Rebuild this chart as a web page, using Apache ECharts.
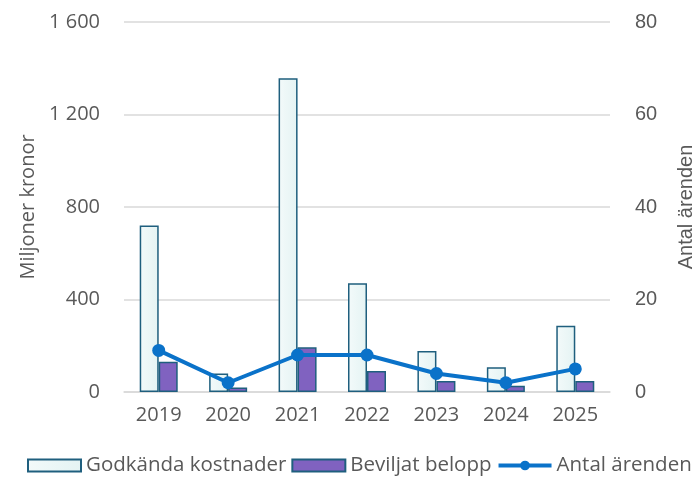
<!DOCTYPE html>
<html>
<head>
<meta charset="utf-8">
<script src="https://cdn.jsdelivr.net/npm/echarts@6/dist/echarts.min.js"></script>
<style>
  html, body { margin: 0; padding: 0; background: #fff; }
  #chart { width: 698px; height: 497px; }
</style>
</head>
<body>
<div id="chart"></div>
<script>
// years on the x axis
var years = ['2019', '2020', '2021', '2022', '2023', '2024', '2025']
// Miljoner kronor
var godkanda = [720, 80, 1357, 470, 177, 107, 287]
var beviljat = [131, 20, 193, 91, 48, 27, 48]
// Antal ärenden
var antal = [9, 2, 8, 8, 4, 2, 5]

var textColor = '#595959'
var gridColor = '#d9d9d9'
var edgeColor = '#1f5f7e'
var lineColor = '#0a72c9'

var chart = echarts.init(document.getElementById('chart'))

chart.setOption({
  animation: false,
  grid: {
    left: 124,
    right: 88,
    top: 22,
    bottom: 105,
    outerBoundsMode: 'none',
  },
  legend: {
    left: 22,
    top: 450,
    itemWidth: 53,
    itemHeight: 12,
    itemGap: 5,
    textStyle: {
      color: textColor,
      fontSize: 20.5,
      fontFamily: 'Open Sans',
    },
    data: [
      { name: 'Godkända kostnader', icon: 'rect' },
      { name: 'Beviljat belopp', icon: 'rect' },
      { name: 'Antal ärenden', lineStyle: { width: 4, color: lineColor } },
    ],
  },
  xAxis: {
    type: 'category',
    data: years,
    axisTick: { show: false },
    axisLine: { lineStyle: { color: gridColor, width: 1.5 } },
    axisLabel: {
      color: textColor,
      fontSize: 20,
      fontFamily: 'Open Sans',
      margin: 13,
    },
  },
  yAxis: [
    {
      type: 'value',
      min: 0,
      max: 1600,
      interval: 400,
      name: 'Miljoner kronor',
      nameLocation: 'middle',
      nameRotate: 90,
      nameGap: 86,
      nameTextStyle: { color: textColor, fontSize: 20, fontFamily: 'Open Sans' },
      axisLine: { show: false },
      axisTick: { show: false },
      splitLine: { lineStyle: { color: gridColor, width: 1.5 } },
      axisLabel: {
        color: textColor,
        fontSize: 20,
        fontFamily: 'Open Sans',
        margin: 24,
        formatter: function (v) {
          return String(v).replace(/\B(?=(\d{3})+(?!\d))/g, ' ')
        },
      },
    },
    {
      type: 'value',
      min: 0,
      max: 80,
      interval: 20,
      name: 'Antal ärenden',
      nameLocation: 'middle',
      nameRotate: 90,
      nameGap: 66,
      nameTextStyle: { color: textColor, fontSize: 20, fontFamily: 'Liberation Sans' },
      axisLine: { show: false },
      axisTick: { show: false },
      splitLine: { show: false },
      axisLabel: {
        color: textColor,
        fontSize: 20,
        fontFamily: 'Liberation Sans',
        margin: 25,
      },
    },
  ],
  series: [
    {
      name: 'Godkända kostnader',
      type: 'bar',
      barWidth: 19,
      barGap: '0%',
      itemStyle: {
        color: new echarts.graphic.LinearGradient(0, 0, 1, 0, [
          { offset: 0, color: '#f3fafa' },
          { offset: 1, color: '#e4f3f3' },
        ]),
        borderColor: edgeColor,
        borderWidth: 1.5,
      },
      data: godkanda,
    },
    {
      name: 'Beviljat belopp',
      type: 'bar',
      barWidth: 19,
      itemStyle: {
        color: '#8062c0',
        borderColor: edgeColor,
        borderWidth: 1.5,
      },
      data: beviljat,
    },
    {
      name: 'Antal ärenden',
      type: 'line',
      yAxisIndex: 1,
      symbol: 'circle',
      symbolSize: 13,
      lineStyle: { color: lineColor, width: 4 },
      itemStyle: { color: lineColor },
      data: antal,
    },
  ],
})
</script>
</body>
</html>
